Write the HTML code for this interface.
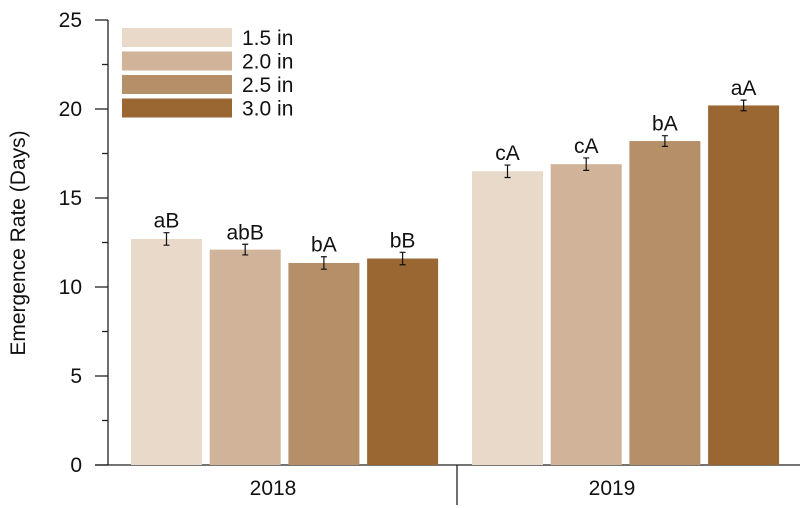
<!DOCTYPE html>
<html><head><meta charset="utf-8"><style>
body{margin:0;background:#fff;}
svg{display:block;font-family:"Liberation Sans",sans-serif;}
</style></head><body>
<svg id="chart" width="810" height="508"></svg>
<script>
const years = ["2018","2019"];
const seriesNames = ["1.5 in","2.0 in","2.5 in","3.0 in"];
const values2018 = [12.7, 12.1, 11.35, 11.6];
const values2019 = [16.5, 16.9, 18.2, 20.2];
const errors2018 = [0.35, 0.3, 0.35, 0.35];
const errors2019 = [0.35, 0.35, 0.3, 0.3];
const letters2018 = ["aB","abB","bA","bB"];
const letters2019 = ["cA","cA","bA","aA"];
const yTicks = [0,5,10,15,20,25];
const colors = ["#e8d9c9","#d0b398","#b58f67","#9a6733"];

const NS="http://www.w3.org/2000/svg";
const svg=document.getElementById('chart');
function mk(t,a,p){const e=document.createElementNS(NS,t);for(const k in a)e.setAttribute(k,a[k]);(p||svg).appendChild(e);return e;}
const y0=465, pxPer=17.8;
const y=v=>y0-v*pxPer;
const groupStart=[131,472], barStep=78.7, barW=71;
const x=(g,i)=>groupStart[g]+i*barStep;
const FS=21;

let e=mk('line',{x1:108,y1:y(25),x2:108,y2:y0,stroke:'#222','stroke-width':1.3});

e=mk('line',{x1:95,y1:y0,x2:800,y2:y0,stroke:'#222','stroke-width':1.3});

e=mk('line',{x1:457,y1:y0,x2:457,y2:505,stroke:'#222','stroke-width':1.3});

yTicks.forEach(v=>{
  let t=mk('line',{x1:95,y1:y(v),x2:108,y2:y(v),stroke:'#222','stroke-width':1.3});
  
  let l=mk('text',{x:82,y:y(v)+7,'text-anchor':'end','font-size':FS,fill:'#111'});
  l.textContent=v;
  
  if(v<25){let m=mk('line',{x1:102,y1:y(v+2.5),x2:108,y2:y(v+2.5),stroke:'#222','stroke-width':1.3});
  }
});
e=mk('text',{x:0,y:0,'text-anchor':'middle','font-size':FS,fill:'#111',transform:'translate(25,243) rotate(-90)'});
e.textContent='Emergence Rate (Days)';

[273,612].forEach((cx,g)=>{
  let l=mk('text',{x:cx,y:495,'text-anchor':'middle','font-size':FS,fill:'#111'});
  l.textContent=years[g];
  
});

[[values2018,errors2018,letters2018],[values2019,errors2019,letters2019]].forEach(([vals,errs,lets],g)=>{
  vals.forEach((v,i)=>{
    const bx=x(g,i);
    let r=mk('rect',{x:bx,y:y(v),width:barW,height:y0-y(v),fill:colors[i]});
    
    const cx=bx+barW/2, hi=y(v+errs[i]), lo=y(v-errs[i]);
    let eb=mk('path',{d:`M${cx},${hi}V${lo}M${cx-3},${hi}H${cx+3}M${cx-3},${lo}H${cx+3}`,stroke:'#111','stroke-width':1.2,fill:'none'});
    
    let t=mk('text',{x:cx,y:hi-5,'text-anchor':'middle','font-size':FS,fill:'#111'});
    t.textContent=lets[i];
    
  });
});

const lg=mk('g',{});

const legY=[28,51.5,75,98.5];
seriesNames.forEach((n,i)=>{
  let s=mk('rect',{x:122,y:legY[i],width:110,height:19,fill:colors[i]},lg);
  
  let t=mk('text',{x:242,y:legY[i]+17,'font-size':FS,fill:'#111'},lg);
  t.textContent=n;
  
});
</script>
</body></html>
